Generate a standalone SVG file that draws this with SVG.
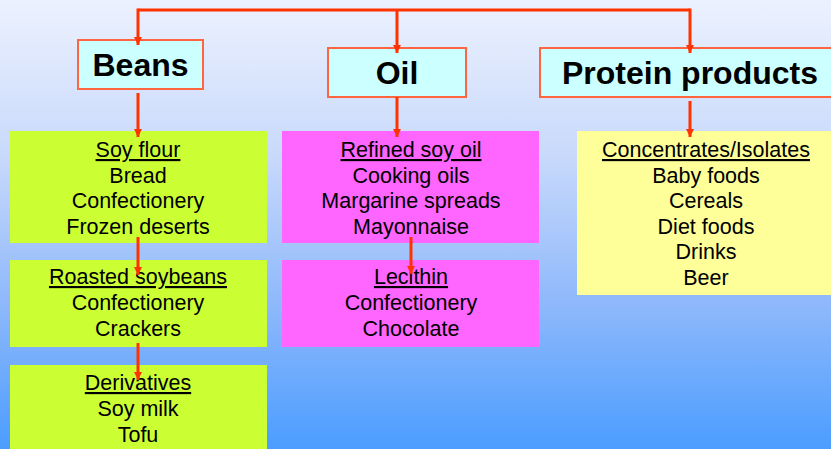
<svg xmlns="http://www.w3.org/2000/svg" width="831" height="449" viewBox="0 0 831 449">
  <defs>
    <linearGradient id="bg" x1="0" y1="0" x2="0" y2="1">
      <stop offset="0" stop-color="#ecf1fe"/>
      <stop offset="0.35" stop-color="#c8d9fb"/>
      <stop offset="0.7" stop-color="#8ab6fb"/>
      <stop offset="1" stop-color="#4b9dff"/>
    </linearGradient>
    <marker id="ah" viewBox="0 0 10 10" refX="10" refY="5" markerWidth="8" markerHeight="8" markerUnits="userSpaceOnUse" orient="auto">
      <path d="M0,0 L10,5 L0,10 Z" fill="#ff3300"/>
    </marker>
    <style>
      .hdr { fill: #ccffff; stroke: #ff6640; stroke-width: 2; }
      .hdrt { font-family: "Liberation Sans", Arial, sans-serif; font-weight: bold; font-size: 32px; fill: #000; text-anchor: middle; }
      .t { font-family: "Liberation Sans", Arial, sans-serif; font-size: 21.5px; fill: #000; text-anchor: middle; }
      .u { text-decoration: underline; }
      .green { fill: #ccff33; }
      .mag { fill: #ff66ff; }
      .yel { fill: #ffff99; }
      .c { stroke: #ff3300; stroke-width: 3; fill: none; }
      .ca { stroke: #ff3300; stroke-width: 3; fill: none; marker-end: url(#ah); }
    </style>
  </defs>
  <rect x="0" y="0" width="831" height="449" fill="url(#bg)"/>

  <g id="beans">
    <rect class="hdr" x="78" y="40" width="125" height="49"/>
    <text class="hdrt" x="140.5" y="76">Beans</text>
  </g>
  <g id="oil">
    <rect class="hdr" x="328" y="48" width="138" height="49"/>
    <text class="hdrt" x="397" y="84">Oil</text>
  </g>
  <g id="protein">
    <rect class="hdr" x="540" y="48" width="300" height="49"/>
    <text class="hdrt" x="690" y="84">Protein products</text>
  </g>

  <g id="soyflour">
    <rect class="green" x="10" y="131" width="257" height="112"/>
    <text class="t u" x="138" y="157">Soy flour</text>
    <text class="t" x="138" y="183">Bread</text>
    <text class="t" x="138" y="208">Confectionery</text>
    <text class="t" x="138" y="234">Frozen deserts</text>
  </g>
  <g id="roasted">
    <rect class="green" x="10" y="260" width="257" height="87"/>
    <text class="t u" x="138" y="284">Roasted soybeans</text>
    <text class="t" x="138" y="310">Confectionery</text>
    <text class="t" x="138" y="336">Crackers</text>
  </g>
  <g id="derivatives">
    <rect class="green" x="10" y="365" width="257" height="95"/>
    <text class="t u" x="138" y="390">Derivatives</text>
    <text class="t" x="138" y="416">Soy milk</text>
    <text class="t" x="138" y="442">Tofu</text>
  </g>

  <g id="refined">
    <rect class="mag" x="282" y="131" width="257" height="112"/>
    <text class="t u" x="411" y="157">Refined soy oil</text>
    <text class="t" x="411" y="183">Cooking oils</text>
    <text class="t" x="411" y="208">Margarine spreads</text>
    <text class="t" x="411" y="234">Mayonnaise</text>
  </g>
  <g id="lecithin">
    <rect class="mag" x="282" y="260" width="257" height="87"/>
    <text class="t u" x="411" y="284">Lecithin</text>
    <text class="t" x="411" y="310">Confectionery</text>
    <text class="t" x="411" y="336">Chocolate</text>
  </g>

  <g id="concentrates">
    <rect class="yel" x="577" y="131" width="260" height="164"/>
    <text class="t u" x="706" y="157">Concentrates/Isolates</text>
    <text class="t" x="706" y="183">Baby foods</text>
    <text class="t" x="706" y="208">Cereals</text>
    <text class="t" x="706" y="234">Diet foods</text>
    <text class="t" x="706" y="259">Drinks</text>
    <text class="t" x="706" y="285">Beer</text>
  </g>

  <g id="connectors">
    <path class="c" d="M138,10 H690"/>
    <path class="ca" d="M138,8.5 V45"/>
    <path class="ca" d="M397,10 V53"/>
    <path class="ca" d="M690,8.5 V53"/>
    <path class="ca" d="M138,93 V137"/>
    <path class="ca" d="M397,97 V137"/>
    <path class="ca" d="M690,101 V137"/>
    <path class="ca" d="M138,237 V275"/>
    <path class="ca" d="M138,343 V380"/>
    <path class="ca" d="M411,237 V274"/>
  </g>
</svg>
